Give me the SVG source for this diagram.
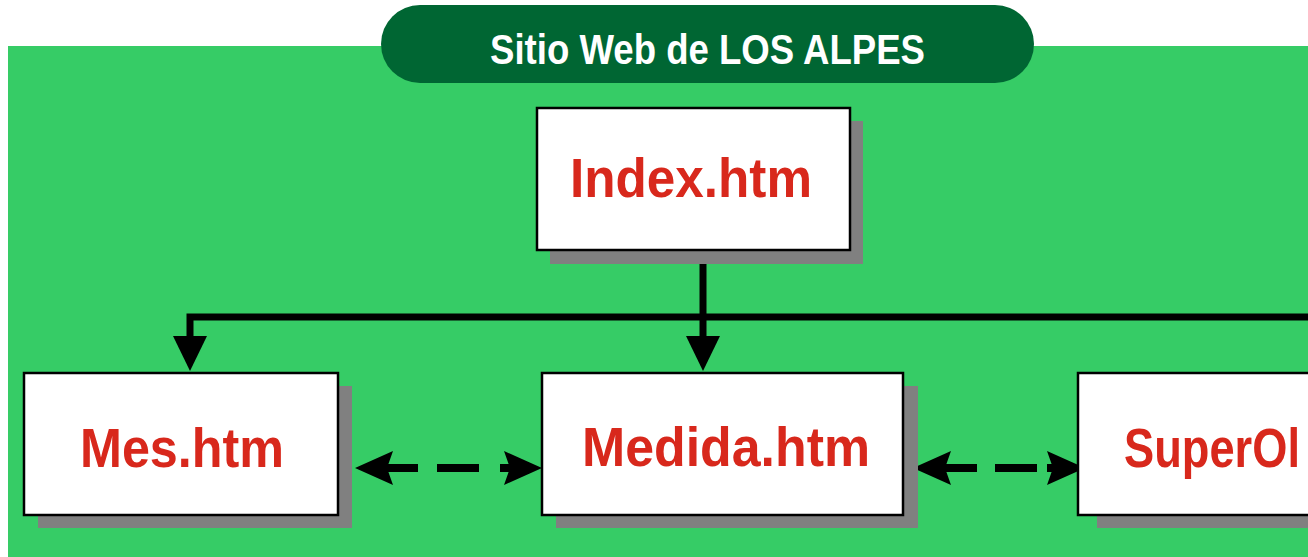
<svg xmlns="http://www.w3.org/2000/svg" width="1308" height="557" viewBox="0 0 1308 557">
  <style>
    .box { fill: #ffffff; stroke: #000000; stroke-width: 2.5; }
    .shadow { fill: #808080; }
    .label { font-family: "Liberation Sans", Arial, sans-serif; font-weight: bold; font-size: 56px; fill: #d8281c; }
    .title { font-family: "Liberation Sans", Arial, sans-serif; font-weight: bold; font-size: 43px; fill: #ffffff; }
    .solid { fill: none; stroke: #000000; stroke-width: 7; stroke-linejoin: miter; }
    .dashed { fill: none; stroke: #000000; stroke-width: 8; }
  </style>
  <defs>
    <marker id="headDown" markerUnits="userSpaceOnUse" viewBox="0 -18 36 36" refX="21" refY="0" markerWidth="36" markerHeight="36" orient="auto">
      <path d="M0,-17 L35,0 L0,17 Z" fill="#000000"/>
    </marker>
    <marker id="headH" markerUnits="userSpaceOnUse" viewBox="0 -18 40 36" refX="23" refY="0" markerWidth="40" markerHeight="36" orient="auto-start-reverse">
      <path d="M0,-17 L38,0 L0,17 L6,0 Z" fill="#000000"/>
    </marker>
  </defs>

  <rect x="0" y="0" width="1308" height="557" fill="#ffffff"/>
  <rect id="background" x="8" y="46" width="1300" height="511" fill="#36cc66"/>

  <g id="title">
    <rect x="381" y="5" width="653" height="78" rx="39" ry="39" fill="#006633"/>
    <text class="title" x="490" y="64" textLength="435" lengthAdjust="spacingAndGlyphs">Sitio Web de LOS ALPES</text>
  </g>

  <g id="connectors">
    <path class="solid" d="M1312,317 H190 V357" marker-end="url(#headDown)"/>
    <path class="solid" d="M703,250 V357" marker-end="url(#headDown)"/>
    <path class="dashed" d="M370,468 H527" stroke-dasharray="48 19 42 21 40" marker-start="url(#headH)" marker-end="url(#headH)"/>
    <path class="dashed" d="M928,468 H1070" stroke-dasharray="49 18 42 10 40" marker-start="url(#headH)" marker-end="url(#headH)"/>
  </g>

  <g id="node-index">
    <rect class="shadow" x="550" y="121" width="313" height="143"/>
    <rect class="box" x="537" y="108" width="313" height="142"/>
    <text class="label" x="570" y="197" textLength="242" lengthAdjust="spacingAndGlyphs">Index.htm</text>
  </g>

  <g id="node-mes">
    <rect class="shadow" x="38" y="386" width="314" height="142"/>
    <rect class="box" x="24" y="373" width="314" height="142"/>
    <text class="label" x="80" y="467" textLength="204" lengthAdjust="spacingAndGlyphs">Mes.htm</text>
  </g>

  <g id="node-medida">
    <rect class="shadow" x="556" y="386" width="362" height="142"/>
    <rect class="box" x="542" y="373" width="361" height="142"/>
    <text class="label" x="582" y="466" textLength="288" lengthAdjust="spacingAndGlyphs">Medida.htm</text>
  </g>

  <g id="node-super">
    <rect class="shadow" x="1097" y="386" width="240" height="142"/>
    <rect class="box" x="1078" y="373" width="260" height="142"/>
    <text class="label" x="1124" y="467" textLength="176" lengthAdjust="spacingAndGlyphs">SuperOl</text>
  </g>
</svg>
